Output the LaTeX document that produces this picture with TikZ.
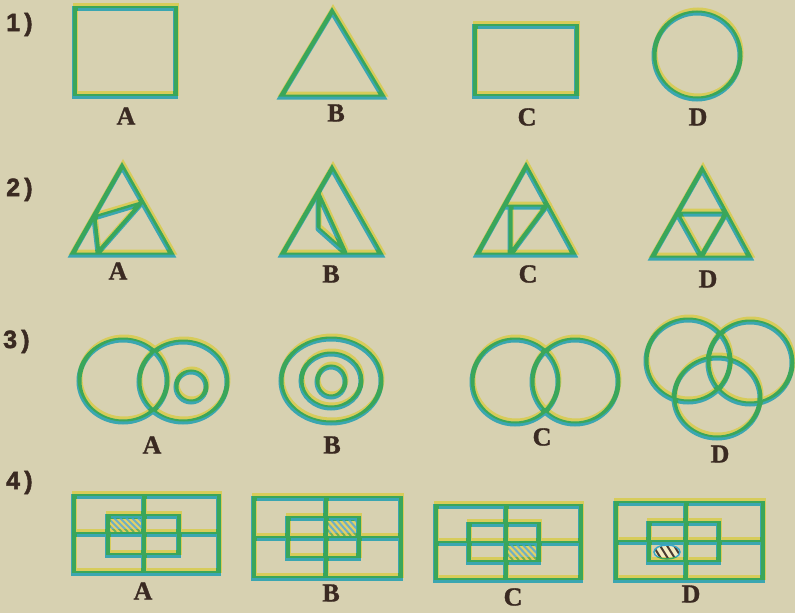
\documentclass[tikz,border=0pt]{standalone}
\usepackage{fontspec}
\setmainfont{Liberation Serif}[BoldFeatures={FakeBold=1.2}]
\newfontfamily\numfont{Liberation Sans}[BoldFeatures={FakeBold=2}]
\definecolor{paper}{HTML}{D7D1B1}
\definecolor{inkY}{HTML}{E2CC5A}
\definecolor{inkC}{HTML}{3AA6C8}
\definecolor{txt}{HTML}{3A2A22}
\definecolor{hatchY}{HTML}{E2D068}
\definecolor{hatchL}{HTML}{6FAFC4}
\definecolor{hatchD}{HTML}{4A3A30}
\newcommand\ink[2][]{%
  \draw[inkY,line width=5pt,blend mode=darken,shift={(1,-3)},#1] #2;
  \draw[inkC,line width=5pt,blend mode=darken,#1] #2;}
\newcommand\hatchbox[4]{%
  \begin{scope}
    \clip (#1,#2) rectangle (#3,#4);
    \fill[hatchY] (#1,#2) rectangle (#3,#4);
    \foreach \k in {0,6,...,60}{\draw[hatchL,line width=2pt] (#1-20+\k,#2) -- (#1-6+\k,#4);}
  \end{scope}}
\tikzset{
  lab/.style={font=\fontsize{26}{26}\selectfont\bfseries, text=txt, inner sep=0pt},
  num/.style={font=\numfont\fontsize{25}{25}\selectfont\bfseries, text=txt, inner sep=0pt, anchor=base west},
  inner/.style={line join=round, line cap=round}
}
\begin{document}
\begin{tikzpicture}[x=1pt,y=-1pt]
\fill[paper] (0,0) rectangle (795,613);

% row labels
\node[num] (n1) at (6,31) {1\,)};
\node[num] (n2) at (6,196) {2\,)};
\node[num] (n3) at (3,348) {3\,)};
\node[num] (n4) at (6,489) {4\,)};

% ---------- row 1
\ink{(74,8) rectangle (175,96)}
\ink{(332,12) -- (281,97) -- (383,97) -- cycle}
\ink{(474,26) rectangle (576,96)}
\ink{(697,56) circle [radius=43pt]}
\node[lab] (a1) at (126,116) {A};
\node[lab] (b1) at (336,113) {B};
\node[lab] (c1) at (527,117) {C};
\node[lab] (d1) at (698,117) {D};

% ---------- row 2
\ink{(122,167) -- (72,255) -- (172,255) -- cycle}
\ink[inner]{(94,218) -- (141,204) -- (98,253) -- cycle}
\ink{(332,169) -- (282,255) -- (381,255) -- cycle}
\ink[inner]{(318,194) -- (318,229) -- (345,253) -- cycle}
\ink{(526,167) -- (477,255) -- (574,255) -- cycle}
\ink[inner]{(504,207) -- (548,207) (510,207) -- (510,254) (546,207) -- (511,254)}
\ink{(702,170) -- (652,258) -- (750,258) -- cycle}
\ink[inner]{(677,214) -- (726,214) -- (701,257) -- cycle}
\node[lab] (a2) at (118,271) {A};
\node[lab] (b2) at (331,274) {B};
\node[lab] (c2) at (528,274) {C};
\node[lab] (d2) at (708,279) {D};

% ---------- row 3
\ink{(123,381) ellipse [x radius=44pt, y radius=41pt]}
\ink{(183,382) ellipse [x radius=44pt, y radius=40pt]}
\ink{(191,387) circle [radius=15pt]}
\ink{(331,381) ellipse [x radius=50pt, y radius=42pt]}
\ink{(331,381) ellipse [x radius=30pt, y radius=27pt]}
\ink{(331,382) ellipse [x radius=14pt, y radius=15pt]}
\ink{(515,382) ellipse [x radius=43pt, y radius=42pt]}
\ink{(575,382) ellipse [x radius=43pt, y radius=42pt]}
\ink{(688,361) ellipse [x radius=42pt, y radius=41pt]}
\ink{(750,363) ellipse [x radius=42pt, y radius=41pt]}
\ink{(717,398) ellipse [x radius=43pt, y radius=40pt]}
\node[lab] (a3) at (152,445) {A};
\node[lab] (b3) at (332,445) {B};
\node[lab] (c3) at (542,437) {C};
\node[lab] (d3) at (720,454) {D};

% ---------- row 4
\hatchbox{110}{518}{141}{532}
\ink{(73,496) rectangle (218,573) (143,496) -- (143,573) (73,534) -- (218,534) (107,516) rectangle (178,555)}
\hatchbox{327}{520}{356}{536}
\ink{(253,498) rectangle (400,578) (325,498) -- (325,578) (253,538) -- (400,538) (287,518) rectangle (358,558)}
\hatchbox{507}{545}{536}{560}
\ink{(435,506) rectangle (580,580) (505,506) -- (505,580) (435,543) -- (580,543) (468,524) rectangle (538,562)}
\begin{scope}
  \clip (667,552) ellipse [x radius=13pt, y radius=7pt];
  \fill[hatchY!40!white] (650,540) rectangle (685,565);
  \foreach \k in {0,7,14,21}{\draw[hatchD,line width=2pt] (652+\k,544) -- (662+\k,560);}
\end{scope}
\draw[inkC,line width=1.5pt] (667,552) ellipse [x radius=13pt, y radius=7pt];
\ink{(615,503) rectangle (762,580) (685,503) -- (685,580) (615,542) -- (762,542) (648,523) rectangle (718,562)}
\node[lab] (a4) at (143,591) {A};
\node[lab] (b4) at (331,593) {B};
\node[lab] (c4) at (513,597) {C};
\node[lab] (d4) at (691,594) {D};

\pgfresetboundingbox
\path[use as bounding box] (0,0) rectangle (795,613);
\end{tikzpicture}
\end{document}
